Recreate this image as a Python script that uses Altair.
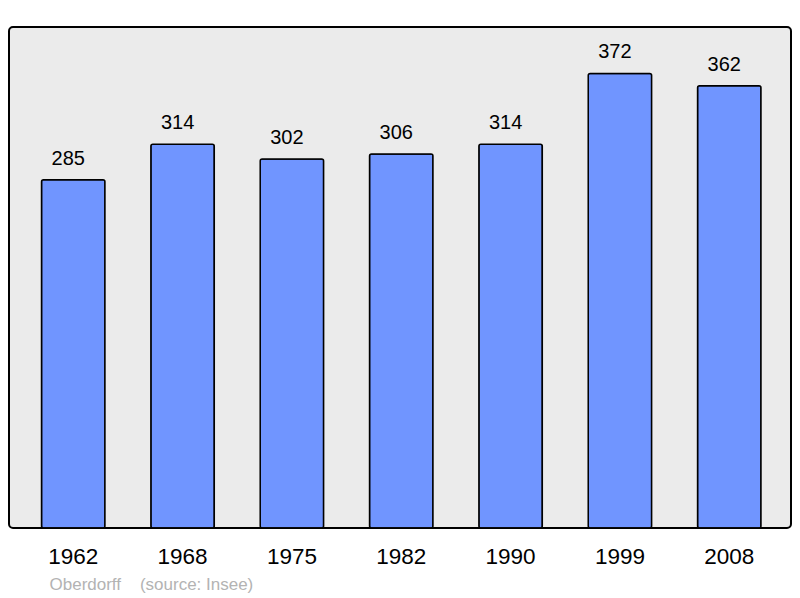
import altair as alt
import pandas as pd

years = ["1962", "1968", "1975", "1982", "1990", "1999", "2008"]
population = [285, 314, 302, 306, 314, 372, 362]
footer = "Oberdorff\u00a0\u00a0\u00a0\u00a0(source: Insee)"

df = pd.DataFrame({"year": years, "pop": population})

x = alt.X(
    "year:N",
    sort=years,
    scale=alt.Scale(paddingInner=0.42, paddingOuter=0.286, align=0.52),
    axis=alt.Axis(
        title=footer,
        titleFont="Liberation Sans",
        titleFontSize=17,
        titleFontWeight="normal",
        titleColor="#b3b3b3",
        titleAnchor="start",
        titleAlign="left",
        titleBaseline="alphabetic",
        titleX=40,
        titleY=61.5,
        labelFont="Liberation Sans",
        labelFontSize=22.5,
        labelColor="#000000",
        labelAngle=0,
        labelBaseline="alphabetic",
        labelPadding=35.5,
        ticks=False,
        tickSize=0,
        domain=False,
        grid=False,
    ),
)
y = alt.Y("pop:Q", scale=alt.Scale(domain=[0, 410], nice=False, zero=True), axis=None)

bars = alt.Chart(df).mark_bar(
    color="#7095ff", stroke="#000000", strokeWidth=1.5, cornerRadius=2
).encode(x=x, y=y)

labels = alt.Chart(df).mark_text(
    font="Liberation Sans", fontSize=20, color="#000000", baseline="alphabetic", dy=-15, dx=-5
).encode(x=x, y=y, text="pop:Q")

chart = (
    alt.layer(bars, labels)
    .properties(
        width=782,
        height=501,
        autosize=alt.AutoSizeParams(type="none"),
        padding={"left": 1, "top": 19, "right": 1, "bottom": 70},
        background="#ffffff",
    )
    .configure_view(fill="#ebebeb", stroke="#000000", strokeWidth=2, cornerRadius=4)
)

chart.save("out.html", embed_options={"renderer": "svg", "actions": False})
